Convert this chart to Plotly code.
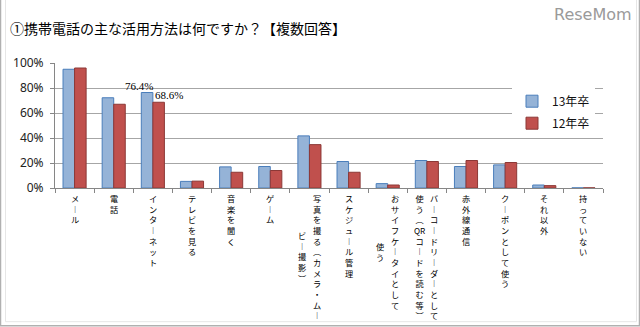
import plotly.graph_objects as go

# ---- data ----
label_lines = [
    ["メール"], ["電話"], ["インターネット"], ["テレビを見る"], ["音楽を聞く"], ["ゲーム"],
    ["写真を撮る（カメラ・ムー", "ビー撮影）"], ["スケジュール管理"],
    ["おサイフケータイとして", "使う"],
    ["バーコードリーダーとして", "使う（QRコードを読む等）"],
    ["赤外線通信"], ["クーポンとして使う"], ["それ以外"], ["持っていない"],
]
categories = ["".join(l) for l in label_lines]
series_names = ["13年卒", "12年卒"]
values_13 = [95.0, 72.2, 76.4, 5.3, 16.9, 17.2, 41.7, 21.2, 3.5, 22.0, 17.2, 18.5, 2.4, 0.1]
values_12 = [96.0, 67.0, 68.6, 5.5, 12.6, 14.0, 34.7, 12.6, 2.4, 21.2, 22.0, 20.4, 1.9, 0.1]
labelled_category = "インターネット"
y_ticks = [0, 20, 40, 60, 80, 100]
title_text = "①携帯電話の主な活用方法は何ですか？【複数回答】"
brand_text = "ReseMom"

# vertical-writing display forms
VERTICAL_FORMS = {"ー": "︱", "（": "︵", "）": "︶"}

# ---- layout geometry (pixels) ----
W, H = 640, 327
PL, PR, PT, PB = 55, 603, 63.3, 188.3


def px2x(px):
    return (px - PL) / (PR - PL)


def px2y(py):
    return (PB - py) / (PB - PT)


fig = go.Figure()
fig.add_trace(go.Bar(
    x=categories, y=values_13, name=series_names[0],
    marker=dict(color="#95B3D7", line=dict(color="#4A7EBB", width=1)),
    legendgroup="a",
))
fig.add_trace(go.Bar(
    x=categories, y=values_12, name=series_names[1],
    marker=dict(color="#C0504D", line=dict(color="#8C3836", width=1)),
    legendgroup="b",
))

annotations = []

# data labels for the highlighted category
idx = categories.index(labelled_category)
for v, shift in [(values_13[idx], -14), (values_12[idx], 16)]:
    annotations.append(dict(
        x=labelled_category, y=v, xref="x", yref="y", text=f"{v}%",
        showarrow=False, yanchor="bottom", xanchor="center", xshift=shift, yshift=-1,
        font=dict(family="Liberation Serif, Times New Roman, serif", size=11, color="#000"),
    ))


def vertical_lines(s):
    out = []
    i = 0
    while i < len(s):
        c = s[i]
        if c.isascii() and c.isalpha():
            j = i
            while j < len(s) and s[j].isascii() and s[j].isalpha():
                j += 1
            out.append(s[i:j])
            i = j
        else:
            out.append(VERTICAL_FORMS.get(c, c))
            i += 1
    return out


FS = 8.2
PITCH = FS * 1.3
TOP = 3
for cat, lines in zip(categories, label_lines):
    cols = [vertical_lines(l) for l in lines]
    longest = max(len(c) for c in cols)
    n = len(lines)
    for li, col in enumerate(cols):
        xs = 0 if n == 1 else (7.5 - 15 * li)
        start = (longest - len(col)) / 2 * PITCH
        annotations.append(dict(
            x=cat, xref="x", y=0, yref="paper", text="<br>".join(col), showarrow=False,
            xanchor="center", yanchor="top", align="center", xshift=xs,
            yshift=-(TOP + start), borderpad=0,
            font=dict(family="Noto Sans CJK JP", size=FS, color="#000"),
        ))

# brand mark
annotations.append(dict(
    x=px2x(634), y=px2y(15), xref="paper", yref="paper", text=brand_text,
    showarrow=False, xanchor="right", yanchor="middle",
    font=dict(family="DejaVu Sans", size=16, color="#9a9a9a"),
))

shapes = [
    dict(type="rect", xref="paper", yref="paper",
         x0=px2x(5.5), x1=px2x(636.5), y0=px2y(322), y1=px2y(-5),
         line=dict(color="#e6e6e6", width=1), layer="below"),
    dict(type="rect", xref="paper", yref="paper",
         x0=px2x(0.5), x1=px2x(639.5), y0=px2y(326), y1=px2y(-5),
         line=dict(color="#b0b0b0", width=1.5), layer="below"),
]

fig.update_layout(
    width=W, height=H,
    margin=dict(l=PL, r=W - PR, t=PT, b=H - PB, pad=0),
    paper_bgcolor="white", plot_bgcolor="white",
    barmode="group", bargap=0.41, bargroupgap=0,
    title=dict(text=title_text, x=10 / W, y=1 - 29 / H, xanchor="left", yanchor="middle",
               font=dict(family="Noto Sans CJK JP", size=14, color="#000")),
    xaxis=dict(type="category", showline=True, linecolor="#868686", linewidth=1,
               ticks="outside", tickson="boundaries", ticklen=4, tickcolor="#868686",
               showticklabels=False, showgrid=False, zeroline=False, fixedrange=True),
    yaxis=dict(range=[0, 100], tickvals=y_ticks, ticktext=[f"{t}%" for t in y_ticks],
               showline=True, linecolor="#868686", linewidth=1,
               ticks="outside", ticklen=4, tickcolor="#868686", ticklabelstandoff=4,
               showgrid=True, gridcolor="#a6a6a6", gridwidth=1, zeroline=False,
               tickfont=dict(family="Noto Sans", size=12, color="#222")),
    legend=dict(x=px2x(512), y=px2y(87), xanchor="left", yanchor="top",
                bgcolor="white", borderwidth=0, tracegroupgap=3,
                font=dict(family="Noto Sans CJK JP", size=12, color="#111")),
    annotations=annotations, shapes=shapes,
    showlegend=True,
)

fig.write_html("out.html")
